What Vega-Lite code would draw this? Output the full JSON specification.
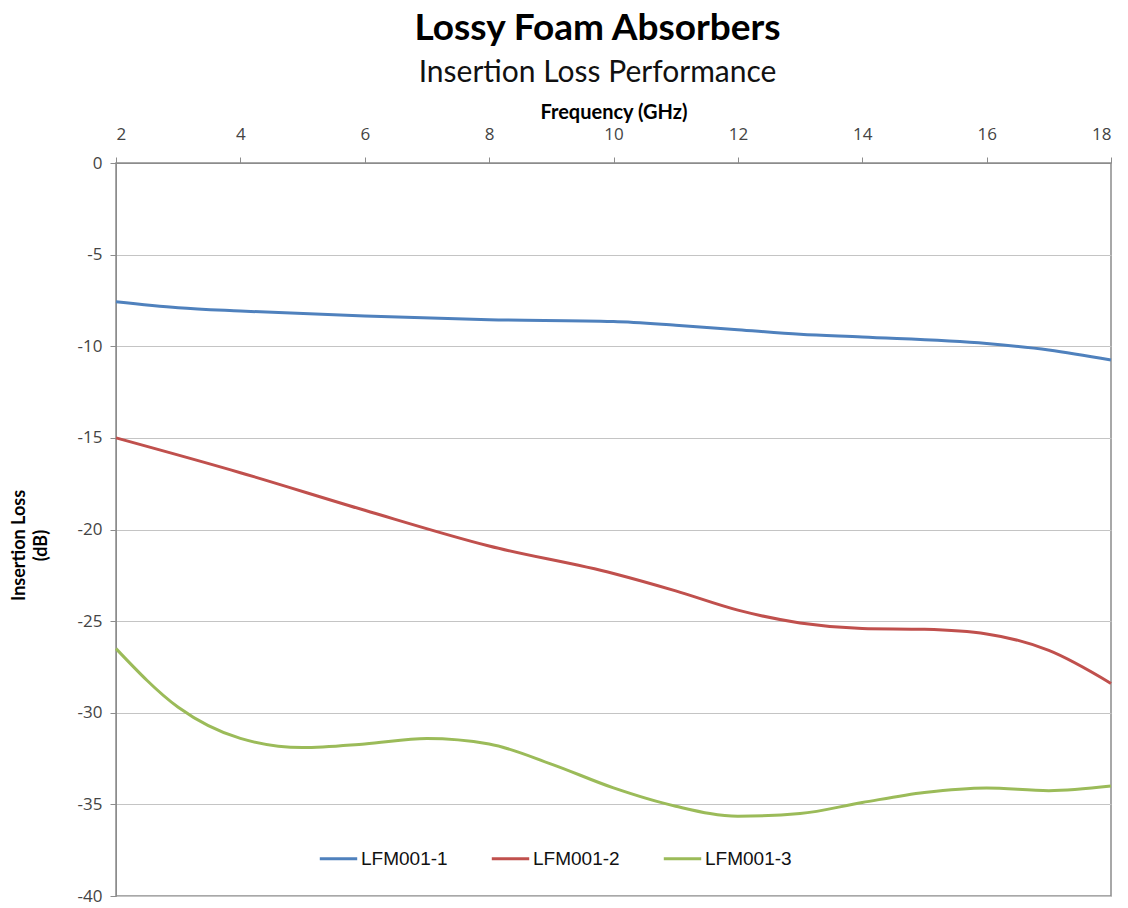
{
  "$schema": "https://vega.github.io/schema/vega-lite/v6.json",
  "width": 995,
  "height": 733,
  "autosize": "none",
  "padding": {"left": 116, "top": 163, "right": 17, "bottom": 12},
  "background": "white",
  "title": {
    "text": "Lossy Foam Absorbers",
    "subtitle": "Insertion Loss Performance",
    "anchor": "middle",
    "dx": -16,
    "offset": 13,
    "font": "Lato",
    "fontSize": 37,
    "fontWeight": "bold",
    "color": "#000000",
    "subtitleFont": "Lato",
    "subtitleFontSize": 30,
    "subtitleColor": "#111111",
    "subtitlePadding": 10
  },
  "config": {
    "view": {"stroke": "#8c8c8c", "strokeWidth": 1.5},
    "axis": {"labelFont": "Open Sans", "titleFont": "Lato"}
  },
  "data": {
    "values": [
      {"series": "LFM001-1", "freq": 2, "loss": -7.57},
      {"series": "LFM001-1", "freq": 3, "loss": -7.9},
      {"series": "LFM001-1", "freq": 4, "loss": -8.08},
      {"series": "LFM001-1", "freq": 6, "loss": -8.35},
      {"series": "LFM001-1", "freq": 8, "loss": -8.55},
      {"series": "LFM001-1", "freq": 10, "loss": -8.65},
      {"series": "LFM001-1", "freq": 11, "loss": -8.85},
      {"series": "LFM001-1", "freq": 12, "loss": -9.1},
      {"series": "LFM001-1", "freq": 13, "loss": -9.35},
      {"series": "LFM001-1", "freq": 14, "loss": -9.5},
      {"series": "LFM001-1", "freq": 16, "loss": -9.85},
      {"series": "LFM001-1", "freq": 17, "loss": -10.2},
      {"series": "LFM001-1", "freq": 18, "loss": -10.75},
      {"series": "LFM001-2", "freq": 2, "loss": -15.0},
      {"series": "LFM001-2", "freq": 4, "loss": -16.9},
      {"series": "LFM001-2", "freq": 6, "loss": -18.95},
      {"series": "LFM001-2", "freq": 8, "loss": -20.9},
      {"series": "LFM001-2", "freq": 10, "loss": -22.4},
      {"series": "LFM001-2", "freq": 11, "loss": -23.35},
      {"series": "LFM001-2", "freq": 12, "loss": -24.4},
      {"series": "LFM001-2", "freq": 13, "loss": -25.1},
      {"series": "LFM001-2", "freq": 14, "loss": -25.4},
      {"series": "LFM001-2", "freq": 15, "loss": -25.45},
      {"series": "LFM001-2", "freq": 16, "loss": -25.7},
      {"series": "LFM001-2", "freq": 17, "loss": -26.6},
      {"series": "LFM001-2", "freq": 18, "loss": -28.4},
      {"series": "LFM001-3", "freq": 2, "loss": -26.5},
      {"series": "LFM001-3", "freq": 3, "loss": -29.7},
      {"series": "LFM001-3", "freq": 4, "loss": -31.4},
      {"series": "LFM001-3", "freq": 5, "loss": -31.9},
      {"series": "LFM001-3", "freq": 6, "loss": -31.7},
      {"series": "LFM001-3", "freq": 7, "loss": -31.4},
      {"series": "LFM001-3", "freq": 8, "loss": -31.7},
      {"series": "LFM001-3", "freq": 9, "loss": -32.8},
      {"series": "LFM001-3", "freq": 10, "loss": -34.1},
      {"series": "LFM001-3", "freq": 11, "loss": -35.1},
      {"series": "LFM001-3", "freq": 12, "loss": -35.65},
      {"series": "LFM001-3", "freq": 13, "loss": -35.5},
      {"series": "LFM001-3", "freq": 14, "loss": -34.9},
      {"series": "LFM001-3", "freq": 15, "loss": -34.35},
      {"series": "LFM001-3", "freq": 16, "loss": -34.1},
      {"series": "LFM001-3", "freq": 17, "loss": -34.25},
      {"series": "LFM001-3", "freq": 18, "loss": -34.0}
    ]
  },
  "mark": {"type": "line", "interpolate": "monotone", "strokeWidth": 3},
  "encoding": {
    "x": {
      "field": "freq",
      "type": "quantitative",
      "scale": {"domain": [2, 18], "nice": false, "zero": false},
      "axis": {
        "orient": "top",
        "title": "Frequency (GHz)",
        "titleFontSize": 20,
        "titleFontWeight": "bold",
        "titleColor": "#000000",
        "titlePadding": 3,
        "values": [2, 4, 6, 8, 10, 12, 14, 16, 18],
        "grid": false,
        "domainColor": "#8c8c8c",
        "tickColor": "#8c8c8c",
        "tickSize": 6,
        "labelFontSize": 17,
        "labelColor": "#444444",
        "labelPadding": 14
      }
    },
    "y": {
      "field": "loss",
      "type": "quantitative",
      "scale": {"domain": [-40, 0], "nice": false, "zero": false},
      "axis": {
        "title": ["Insertion Loss", "(dB)"],
        "titleFontSize": 18,
        "titleFontWeight": "bold",
        "titleColor": "#000000",
        "titleAngle": 270,
        "titleAlign": "center",
        "titleBaseline": "middle",
        "titleLineHeight": 22,
        "titleX": -97,
        "titleY": 382,
        "values": [0, -5, -10, -15, -20, -25, -30, -35, -40],
        "labelExpr": "'' + datum.value",
        "gridColor": "#c4c4c4",
        "gridWidth": 1.2,
        "domainColor": "#8c8c8c",
        "tickColor": "#8c8c8c",
        "tickSize": 6,
        "labelFontSize": 17,
        "labelColor": "#444444",
        "labelPadding": 8
      }
    },
    "color": {
      "field": "series",
      "type": "nominal",
      "scale": {"domain": ["LFM001-1", "LFM001-2", "LFM001-3"], "range": ["#4F81BD", "#C0504D", "#9BBB59"]},
      "legend": {
        "title": null,
        "orient": "none",
        "direction": "horizontal",
        "legendX": 202,
        "legendY": 675,
        "symbolType": "stroke",
        "symbolSize": 1400,
        "symbolStrokeWidth": 3,
        "labelFont": "Liberation Sans",
        "labelFontSize": 19,
        "labelColor": "#111111",
        "labelOffset": 2,
        "columnPadding": 37
      }
    }
  }
}
